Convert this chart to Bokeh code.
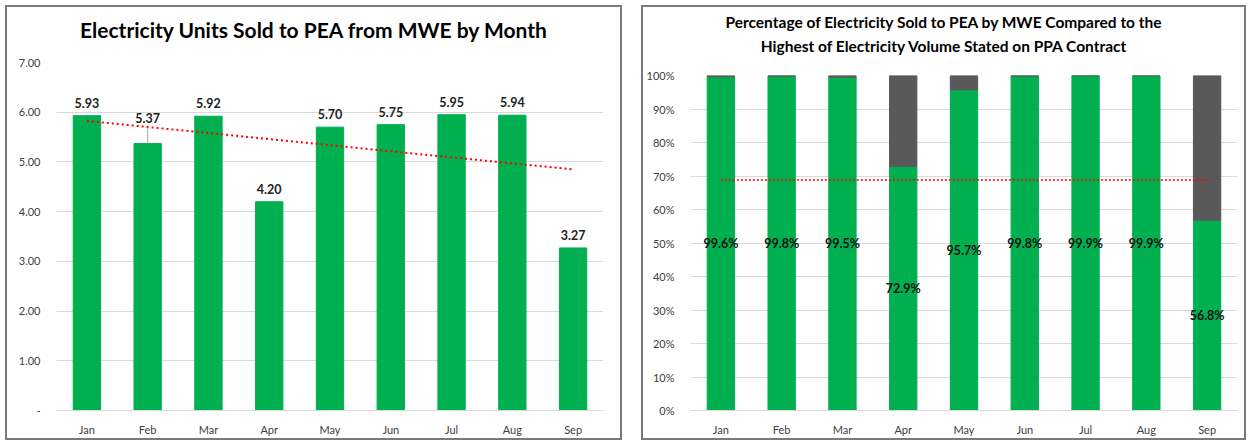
import numpy as np
from bokeh.plotting import figure
from bokeh.layouts import row, column
from bokeh.models import ColumnDataSource, FixedTicker, Spacer, Div
from bokeh.core.properties import value
from bokeh.embed import file_html
from bokeh.resources import INLINE

months = ["Jan", "Feb", "Mar", "Apr", "May", "Jun", "Jul", "Aug", "Sep"]
units_sold = [5.93, 5.37, 5.92, 4.20, 5.70, 5.75, 5.95, 5.94, 3.27]
pct_sold = [99.6, 99.8, 99.5, 72.9, 95.7, 99.8, 99.9, 99.9, 56.8]
pct_reference_line = 68.8
left_title = "Electricity Units Sold to PEA from MWE by Month"
right_title_1 = "Percentage of Electricity Sold to PEA by MWE Compared to the"
right_title_2 = "Highest of Electricity Volume Stated on PPA Contract"

GREEN = "#00B050"
GREY = "#595959"
FONT = "Lato"
BORDER = {"border": "2px solid #7a7a7a", "background-color": "white"}

# ---------------- left chart ----------------
xi = np.arange(len(months))
slope, intercept = np.polyfit(xi + 1, units_sold, 1)
trend = [slope * (i + 1) + intercept for i in xi]

label_offsets = [13 if m != "Feb" else 26 for m in months]
src1 = ColumnDataSource(dict(
    m=months, v=units_sold, lbl=[f"{v:.2f}" for v in units_sold],
    yoff=[-o for o in label_offsets], trend=trend,
))

div1 = Div(text=(f'<div style="width:613px;font-family:{FONT};font-weight:bold;'
                 f'font-size:21px;line-height:26px;text-align:center;'
                 f'padding-top:10px;color:#000;">{left_title}</div>'),
           width=613, height=42, margin=0)

p1 = figure(x_range=months, y_range=(0, 7), width=613, height=389,
            output_backend="svg", toolbar_location=None,
            min_border_left=49, min_border_right=17, min_border_top=13,
            min_border_bottom=25, margin=0)
p1.title.visible = False
p1.vbar(x="m", top="v", width=0.45, source=src1, fill_color=GREEN,
        line_color=GREEN)
# Feb leader line
p1.segment(x0=["Feb"], y0=[units_sold[1]], x1=["Feb"],
           y1=[units_sold[1] + 0.32], line_color="#a6a6a6", line_width=1)
p1.line(x="m", y="trend", source=src1, line_color="red", line_width=2,
        line_dash="2 3")
p1.text(x="m", y="v", text="lbl", source=src1, y_offset="yoff",
        text_align="center", text_baseline="middle",
        text_font=value(FONT), text_font_size="12.5px",
        text_font_style="bold", text_color="#222222")

p1.yaxis.ticker = FixedTicker(ticks=list(range(0, 8)))
p1.yaxis.major_label_overrides = {0: "-", **{i: f"{i:.2f}" for i in range(1, 8)}}

# ---------------- right chart ----------------
pct_frac = [v / 100 for v in pct_sold]
rest = [1 - v for v in pct_frac]
src2 = ColumnDataSource(dict(
    m=months, g=pct_frac, r=rest, mid=[v / 2 for v in pct_frac],
    lbl=[f"{v:.1f}%" for v in pct_sold],
    ref=[pct_reference_line / 100] * len(months),
))

div2 = Div(text=(f'<div style="width:594px;font-family:{FONT};font-weight:bold;'
                 f'font-size:15.5px;line-height:24px;text-align:center;'
                 f'padding-top:3px;padding-left:7px;color:#000;">'
                 f'{right_title_1}<br>{right_title_2}</div>'),
           width=601, height=50, margin=0)

p2 = figure(x_range=months, y_range=(0, 1), width=601, height=381,
            output_backend="svg", toolbar_location=None,
            min_border_left=45, min_border_right=7, min_border_top=18,
            min_border_bottom=25, margin=0)
p2.title.visible = False
p2.vbar_stack(["g", "r"], x="m", width=0.45, source=src2,
              fill_color=[GREEN, GREY], line_color=[GREEN, GREY])
p2.line(x="m", y="ref", source=src2, line_color="red", line_width=1.5,
        line_dash="2 2")
p2.text(x="m", y="mid", text="lbl", source=src2, text_align="center",
        text_baseline="middle", text_font=value(FONT),
        text_font_size="12.5px", text_font_style="bold", text_color="#111111")

p2.yaxis.ticker = FixedTicker(ticks=[i / 10 for i in range(11)])
p2.yaxis.major_label_overrides = {i / 10: f"{i * 10}%" for i in range(11)}

for p in (p1, p2):
    p.background_fill_color = "white"
    p.border_fill_color = "white"
    p.outline_line_color = None
    p.xgrid.grid_line_color = None
    p.ygrid.grid_line_color = "#D9D9D9"
    p.ygrid.grid_line_width = 1
    p.x_range.range_padding = 0
    for ax in (p.xaxis, p.yaxis):
        ax.major_tick_line_color = None
        ax.minor_tick_line_color = None
        ax.major_label_text_font = FONT
        ax.major_label_text_font_size = "11px"
        ax.major_label_text_color = "#404040"
    p.yaxis.axis_line_color = None
    p.xaxis.axis_line_color = "#D9D9D9"
    p.xaxis.major_label_standoff = 6
    p.yaxis.major_label_standoff = 10

panel1 = column(div1, p1, styles=BORDER, spacing=0, margin=0)
panel2 = column(div2, p2, styles=BORDER, spacing=0, margin=0)

layout = column(Spacer(height=5, margin=0),
                row(Spacer(width=5, margin=0), panel1,
                    Spacer(width=19, margin=0), panel2, margin=0),
                margin=0)
open("out.html", "w").write(file_html(layout, INLINE))
